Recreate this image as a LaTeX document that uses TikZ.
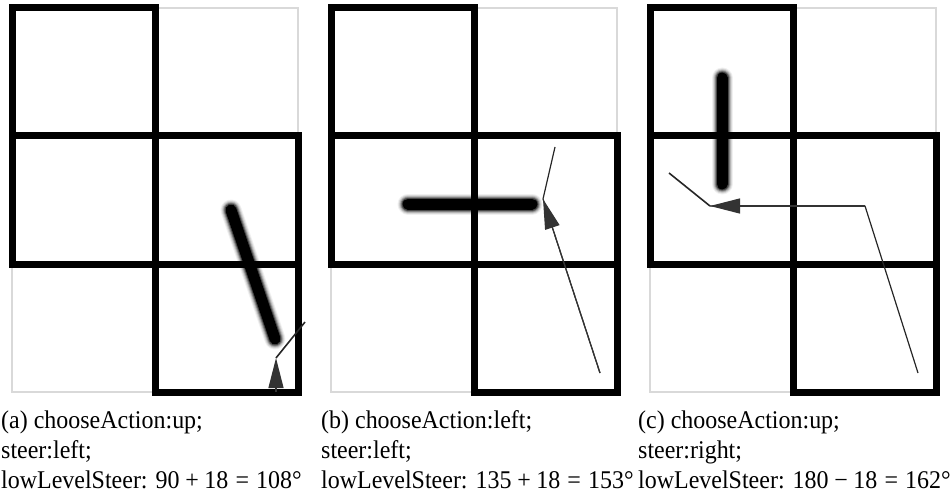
\documentclass[tikz,border=0pt]{standalone}
\usepackage{fontspec}
\setmainfont{Liberation Serif}[FakeStretch=0.94]
\usetikzlibrary{arrows.meta}

% binary operators spaced as in math mode
\newcommand{\opplus}{\hspace{.222em}+\hspace{.222em}}
\newcommand{\opminus}{\hspace{.222em}−\hspace{.222em}}
\newcommand{\opeq}{\hspace{.278em}=\hspace{.278em}}

% the maze: thick walls for open cells, faint outline for the rest
\newcommand{\mazegrid}{%
  \draw[faint] (143,0) rectangle (286,128);
  \draw[faint] (0,256) rectangle (143,384);
  \draw[wall] (0,0) rectangle (143,128);
  \draw[wall] (0,128) rectangle (143,256);
  \draw[wall] (143,128) rectangle (286,256);
  \draw[wall] (143,256) rectangle (286,384);
}

% blurred robot body between two named points
\newcommand{\softbar}[2]{%
  \foreach \w/\o in {21/0.06, 19/0.1, 17/0.16, 15/0.28, 13/0.45}
    \draw[line cap=round, line width=\w pt, draw opacity=\o] (#1) -- (#2);
  \draw[line cap=round, line width=11pt] (#1) -- (#2);
}

\tikzset{
  x=1pt, y=-1pt,
  wall/.style={line width=7pt, line join=miter},
  faint/.style={line width=1.3pt, draw=black!15},
  track/.style={line width=1.2pt, draw=black!85, line join=round},
  heading/.style={-{Triangle[length=30pt,width=15pt,fill=black!80]}, line width=1.2pt, draw=black!80},
  caption/.style={anchor=base west, inner sep=0pt, font=\fontsize{25.5pt}{30pt}\selectfont},
}

\begin{document}
\begin{tikzpicture}
\useasboundingbox (0,0) rectangle (950,500);

% (a)
\begin{scope}[shift={(12,8)}]
  \mazegrid
  \coordinate (a-b1) at (219,202);
  \coordinate (a-b2) at (263,331);
  \softbar{a-b1}{a-b2}
  \coordinate (a-tail) at (264,384);
  \coordinate (a-tip) at (264,350);
  \coordinate (a-steer) at (293,314);
  \draw[heading] (a-tail) -- (a-tip);
  \draw[track, line width=1.6pt] (a-tip) -- (a-steer);
\end{scope}

% (b)
\begin{scope}[shift={(331,8)}]
  \mazegrid
  \coordinate (b-b1) at (77,196);
  \coordinate (b-b2) at (201,196);
  \softbar{b-b1}{b-b2}
  \coordinate (b-start) at (269,365);
  \coordinate (b-tip) at (212,191);
  \coordinate (b-steer) at (224,139);
  \draw[track] (b-start) -- (b-tip);
  \draw[heading] (b-start) -- (b-tip);
  \draw[track] (b-tip) -- (b-steer);
\end{scope}

% (c)
\begin{scope}[shift={(650,8)}]
  \mazegrid
  \coordinate (c-b1) at (72,70);
  \coordinate (c-b2) at (72,176);
  \softbar{c-b1}{c-b2}
  \coordinate (c-start) at (268,365);
  \coordinate (c-bend) at (215,198);
  \coordinate (c-tip) at (60,198);
  \coordinate (c-steer) at (19,165);
  \draw[track] (c-start) -- (c-bend) -- (c-tip);
  \draw[heading] (c-bend) -- (c-tip);
  \draw[track, line width=1.6pt] (c-tip) -- (c-steer);
\end{scope}

% captions
\node[caption] (a-cap1) at (1,428) {(a) chooseAction:up;};
\node[caption] (a-cap2) at (1,458) {steer:left;};
\node[caption] (a-cap3) at (1,488) {lowLevelSteer: 90\opplus 18\opeq 108°};

\node[caption] (b-cap1) at (321,428) {(b) chooseAction:left;};
\node[caption] (b-cap2) at (321,458) {steer:left;};
\node[caption] (b-cap3) at (321,488) {lowLevelSteer: 135\opplus 18\opeq 153°};

\node[caption] (c-cap1) at (638,428) {(c) chooseAction:up;};
\node[caption] (c-cap2) at (638,458) {steer:right;};
\node[caption] (c-cap3) at (638,488) {lowLevelSteer: 180\opminus 18\opeq 162°};
\end{tikzpicture}
\end{document}
